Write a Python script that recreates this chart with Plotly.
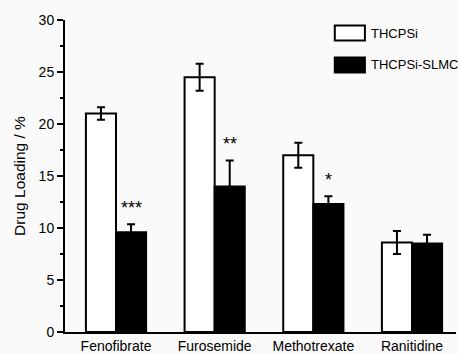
import plotly.graph_objects as go

categories = ["Fenofibrate", "Furosemide", "Methotrexate", "Ranitidine"]
thcpsi = [21.0, 24.5, 17.0, 8.6]
thcpsi_err = [0.6, 1.3, 1.2, 1.1]
slmc = [9.6, 14.0, 12.3, 8.5]
slmc_err = [0.75, 2.5, 0.75, 0.85]
significance = ["***", "**", "*", ""]
series_names = ["THCPSi", "THCPSi-SLMC"]
y_ticks = [0, 5, 10, 15, 20, 25, 30]

font = "Liberation Sans, Arial, sans-serif"

fig = go.Figure()
fig.add_trace(go.Bar(
    x=categories, y=thcpsi, name=series_names[0],
    marker=dict(color="white", line=dict(color="black", width=2)),
    error_y=dict(type="data", array=thcpsi_err, color="black", thickness=2, width=4),
    showlegend=False,
))
fig.add_trace(go.Bar(
    x=categories, y=slmc, name=series_names[1],
    marker=dict(color="black", line=dict(color="black", width=2)),
    error_y=dict(type="data", array=slmc_err, color="black", thickness=2, width=4),
    showlegend=False,
))

# significance stars above the SLMC bars
for i, (cat, v, e, s) in enumerate(zip(categories, slmc, slmc_err, significance)):
    if s:
        fig.add_annotation(
            x=i + 0.152, y=v + e, xref="x", yref="y", text=s,
            showarrow=False, yanchor="bottom", yshift=4,
            font=dict(family=font, size=18, color="black"),
        )

# legend drawn as boxes + text
legend_y = [0.958, 0.856]
legend_fill = ["white", "black"]
for name, yy, fill in zip(series_names, legend_y, legend_fill):
    fig.add_shape(type="rect", xref="paper", yref="paper",
                  x0=0.69, x1=0.767, y0=yy - 0.024, y1=yy + 0.024,
                  fillcolor=fill, line=dict(color="black", width=2))
    fig.add_annotation(x=0.778, y=yy, xref="paper", yref="paper", text=name,
                       showarrow=False, xanchor="left", yanchor="middle",
                       font=dict(family=font, size=13, color="black"))

fig.update_layout(
    width=458, height=354,
    margin=dict(l=65, r=2, t=20, b=22, autoexpand=False),
    paper_bgcolor="#fafafa", plot_bgcolor="#fafafa",
    barmode="group", bargap=0.39, bargroupgap=0,
    font=dict(family=font, size=14, color="black"),
)
fig.update_xaxes(
    range=[-0.517, 3.446], showline=True, linecolor="black", linewidth=2,
    ticks="", showgrid=False, zeroline=False, automargin=False,
    tickfont=dict(family=font, size=14),
)
fig.update_yaxes(
    range=[0, 30], tickvals=y_ticks, showline=True, linecolor="black", linewidth=2,
    ticks="outside", ticklen=6, tickwidth=2, tickcolor="black",
    minor=dict(tickvals=[2.5, 7.5, 12.5, 17.5, 22.5, 27.5], ticks="outside",
               ticklen=3, tickwidth=1.5, tickcolor="black", showgrid=False),
    showgrid=False, zeroline=False, automargin=False,
    title=dict(text="Drug Loading / %", font=dict(family=font, size=15.5), standoff=9),
    tickfont=dict(family=font, size=14),
)

fig.write_html("out.html", config={"displayModeBar": False},
               post_script="document.body.style.margin='0';")
